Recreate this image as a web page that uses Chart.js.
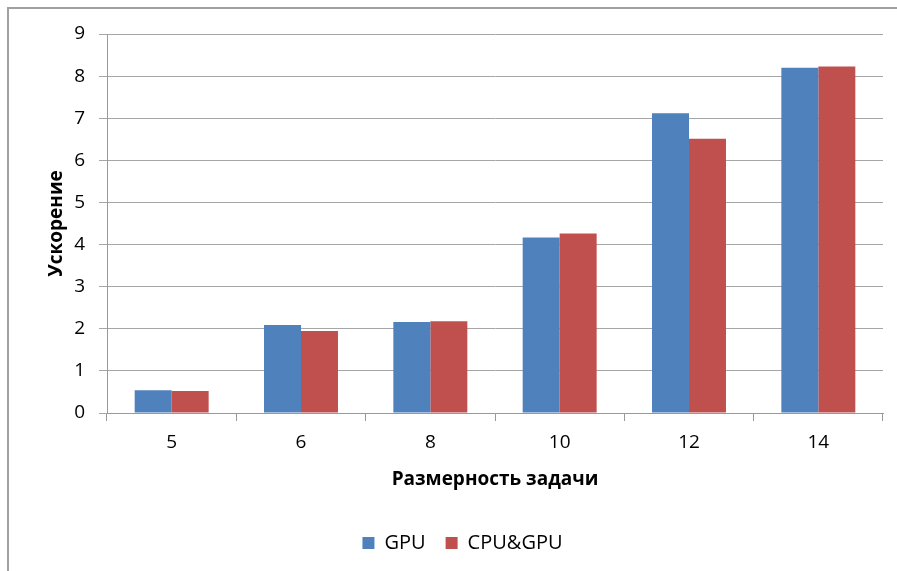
<!DOCTYPE html>
<html>
	<head>
		<title>Ускорение</title>
		<meta charset="UTF-8">
		<script src="https://cdn.jsdelivr.net/npm/chart.js@4.4.0/dist/chart.umd.min.js"></script>
		<style>
			html, body { margin: 0; padding: 0; background: #fff; }
			#wrap { width: 897px; height: 571px; }
		</style>
	</head>
	<body>
		<div id="wrap"><canvas id="myChart"></canvas></div>
		<script>
			const sizes = ['5', '6', '8', '10', '12', '14'];
			const gpu = [0.54, 2.09, 2.16, 4.17, 7.12, 8.20];
			const cpuGpu = [0.52, 1.95, 2.18, 4.26, 6.51, 8.23];

			const FONT = '"Open Sans", sans-serif';

			// gray frame of the chart area (only top and left visible)
			// and a small shift of the legend to the right, like in Excel
			const frame = {
				id: 'frame',
				afterLayout(chart) {
					chart.legend.left += 21;
					chart.legend.right += 21;
				},
				beforeDraw(chart) {
					const ctx = chart.ctx;
					ctx.save();
					ctx.strokeStyle = '#a0a0a0';
					ctx.lineWidth = 2;
					ctx.beginPath();
					ctx.moveTo(8, 571);
					ctx.lineTo(8, 8);
					ctx.lineTo(897, 8);
					ctx.stroke();
					ctx.restore();
				}
			};

			var ctx = document.getElementById('myChart').getContext('2d');
			var chart = new Chart(ctx, {
				type: 'bar',
				data: {
					labels: sizes,
					datasets: [{
						label: 'GPU',
						backgroundColor: '#4f81bd',
						data: gpu
					}, {
						label: 'CPU&GPU',
						backgroundColor: '#c0504d',
						data: cpuGpu
					}]
				},
				options: {
					responsive: true,
					maintainAspectRatio: false,
					animation: false,
					layout: { padding: { top: 34, right: 14, left: 0, bottom: 8 } },
					datasets: { bar: { categoryPercentage: 0.572, barPercentage: 1 } },
					plugins: {
						legend: {
							position: 'bottom',
							labels: {
								font: { family: FONT, size: 20 },
								color: '#000',
								boxWidth: 12,
								boxHeight: 12,
								padding: 20
							}
						},
						tooltip: { enabled: false }
					},
					scales: {
						x: {
							grid: { drawOnChartArea: false, tickLength: 8, color: '#999' },
							border: { color: '#999' },
							ticks: { font: { family: FONT, size: 19 }, color: '#000', padding: 10 },
							title: {
								display: true,
								text: 'Размерность задачи',
								font: { family: FONT, size: 19, weight: 'bold' },
								color: '#000',
								padding: { top: 0, bottom: 22 }
							},
							afterFit(scale) { scale.height = 100; }
						},
						y: {
							min: 0,
							max: 9,
							grid: { color: '#a6a6a6', tickLength: 8 },
							border: { color: '#999' },
							ticks: { stepSize: 1, font: { family: FONT, size: 19 }, color: '#000', padding: 14 },
							title: {
								display: true,
								text: 'Ускорение',
								font: { family: FONT, size: 19, weight: 'bold' },
								color: '#000',
								padding: { top: 45, bottom: 0 }
							},
							afterFit(scale) { scale.width = 107; }
						}
					}
				},
				plugins: [frame]
			});
		</script>
	</body>
</html>
